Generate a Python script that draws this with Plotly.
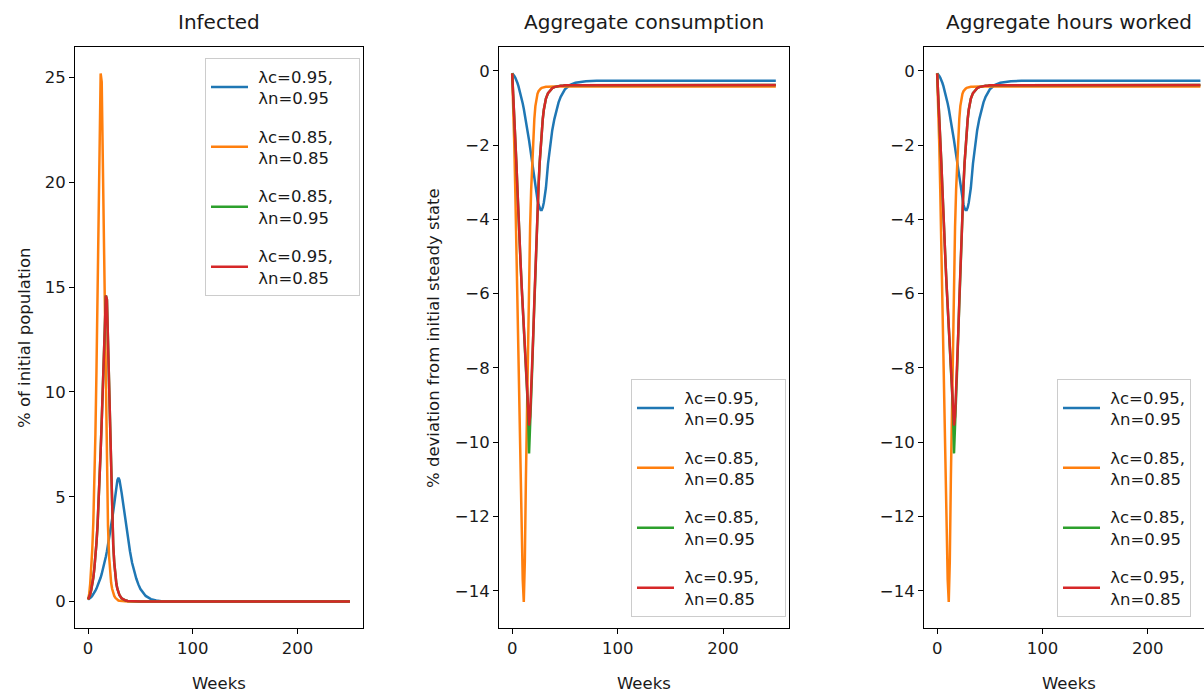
import plotly.graph_objects as go

# ---------------- data ----------------
weeks = list(range(0, 31)) + list(range(32, 51, 2)) + [55, 60, 65, 70, 80, 90, 100, 150, 200, 250]

series_labels = [("λc=0.95,", "λn=0.95"), ("λc=0.85,", "λn=0.85"),
                 ("λc=0.85,", "λn=0.95"), ("λc=0.95,", "λn=0.85")]
series_colors = ["#1f77b4", "#ff7f0e", "#2ca02c", "#d62728"]

# Infected (% of initial population)
inf_095_095 = [0.10, 0.13, 0.17, 0.22, 0.28, 0.35, 0.43, 0.52, 0.62, 0.74, 0.87, 1.0, 1.15, 1.32, 1.5, 1.7,
               1.92, 2.15, 2.4, 2.68, 2.98, 3.3, 3.62, 3.95, 4.3, 4.7, 5.1, 5.5, 5.8, 5.9, 5.8,
               5.2, 4.45, 3.7, 3.0, 2.4, 1.85, 1.45, 1.1, 0.82, 0.6,
               0.27, 0.12, 0.05, 0.02, 0.01, 0, 0, 0, 0, 0]
inf_085_085 = [0.10, 0.35, 0.85, 1.5, 2.5, 3.8, 5.5, 8.0, 11.0, 14.5, 18.5, 22.5, 25.2, 24.8, 21.5, 17.8,
               13.5, 9.5, 6.3, 3.6, 2.2, 1.4, 0.9, 0.6, 0.4, 0.27, 0.18, 0.12, 0.08, 0.05, 0.035,
               0.02, 0.01, 0.006, 0.004, 0.002, 0.001, 0, 0, 0, 0,
               0, 0, 0, 0, 0, 0, 0, 0, 0, 0]
inf_085_095 = [0.10, 0.2, 0.35, 0.55, 0.8, 1.15, 1.6, 2.1, 2.8, 3.6, 4.6, 5.8, 7.2, 8.6, 10.2, 12.0,
               13.6, 14.6, 14.4, 12.3, 9.8, 7.5, 5.5, 3.9, 2.7, 1.85, 1.25, 0.85, 0.6, 0.42, 0.3,
               0.16, 0.09, 0.05, 0.03, 0.02, 0.01, 0.006, 0.004, 0.002, 0.001,
               0, 0, 0, 0, 0, 0, 0, 0, 0, 0]
inf_095_085 = [0.10, 0.2, 0.35, 0.55, 0.8, 1.15, 1.6, 2.1, 2.8, 3.6, 4.6, 5.8, 7.2, 8.6, 10.2, 12.0,
               13.6, 14.6, 14.4, 12.3, 9.8, 7.5, 5.5, 3.9, 2.7, 1.85, 1.25, 0.85, 0.6, 0.42, 0.3,
               0.16, 0.09, 0.05, 0.03, 0.02, 0.01, 0.006, 0.004, 0.002, 0.001,
               0, 0, 0, 0, 0, 0, 0, 0, 0, 0]

# Aggregate consumption (% deviation from initial steady state)
cons_095_095 = [-0.07, -0.1, -0.14, -0.19, -0.25, -0.33, -0.42, -0.52, -0.63, -0.75, -0.88, -1.02, -1.17, -1.33,
                -1.5, -1.68, -1.87, -2.07, -2.28, -2.49, -2.7, -2.9, -3.1, -3.3, -3.47, -3.6, -3.7, -3.75,
                -3.75, -3.68, -3.55,
                -3.15, -2.5, -2.0, -1.6, -1.3, -1.05, -0.85, -0.7, -0.58, -0.5,
                -0.38, -0.32, -0.3, -0.28, -0.27, -0.27, -0.27, -0.27, -0.27, -0.27]
cons_085_085 = [-0.07, -0.9, -2.0, -3.3, -4.8, -6.4, -8.1, -9.7, -11.2, -12.6, -13.7, -14.3, -13.2, -11.0,
                -9.0, -7.1, -5.5, -4.2, -3.2, -2.4, -1.75, -1.3, -0.95, -0.75, -0.62, -0.55, -0.5, -0.48,
                -0.46, -0.45, -0.44,
                -0.43, -0.43, -0.42, -0.42, -0.42, -0.42, -0.42, -0.42, -0.42, -0.42,
                -0.42, -0.42, -0.42, -0.42, -0.42, -0.42, -0.42, -0.42, -0.42, -0.42]
cons_085_095 = [-0.07, -0.6, -1.2, -1.9, -2.5, -3.2, -4.0, -4.6, -5.2, -5.8, -6.3, -6.9, -7.5, -8.1,
                -8.6, -9.1, -10.3, -9.3, -8.7, -8.0, -7.1, -6.2, -5.3, -4.5, -3.8, -3.1, -2.5, -2.0,
                -1.6, -1.3, -1.05,
                -0.75, -0.6, -0.52, -0.47, -0.44, -0.42, -0.41, -0.40, -0.40, -0.39,
                -0.39, -0.39, -0.38, -0.38, -0.38, -0.38, -0.38, -0.38, -0.38, -0.38]
cons_095_085 = [-0.07, -0.6, -1.2, -1.9, -2.5, -3.2, -4.0, -4.6, -5.2, -5.8, -6.3, -6.9, -7.5, -8.1,
                -8.6, -9.1, -9.55, -9.3, -8.7, -8.0, -7.1, -6.2, -5.3, -4.5, -3.8, -3.1, -2.5, -2.0,
                -1.6, -1.3, -1.05,
                -0.75, -0.6, -0.52, -0.47, -0.44, -0.42, -0.41, -0.40, -0.40, -0.39,
                -0.39, -0.39, -0.38, -0.38, -0.38, -0.38, -0.38, -0.38, -0.38, -0.38]

# Aggregate hours worked (% deviation from initial steady state)
hours_095_095 = [-0.07, -0.1, -0.14, -0.19, -0.25, -0.33, -0.42, -0.52, -0.63, -0.75, -0.88, -1.02, -1.17, -1.33,
                 -1.5, -1.68, -1.87, -2.07, -2.28, -2.49, -2.7, -2.9, -3.1, -3.3, -3.47, -3.6, -3.7, -3.75,
                 -3.75, -3.68, -3.55,
                 -3.15, -2.5, -2.0, -1.6, -1.3, -1.05, -0.85, -0.7, -0.58, -0.5,
                 -0.38, -0.32, -0.3, -0.28, -0.27, -0.27, -0.27, -0.27, -0.27, -0.27]
hours_085_085 = [-0.07, -0.9, -2.0, -3.3, -4.8, -6.4, -8.1, -9.7, -11.2, -12.6, -13.7, -14.3, -13.2, -11.0,
                 -9.0, -7.1, -5.5, -4.2, -3.2, -2.4, -1.75, -1.3, -0.95, -0.75, -0.62, -0.55, -0.5, -0.48,
                 -0.46, -0.45, -0.44,
                 -0.43, -0.43, -0.42, -0.42, -0.42, -0.42, -0.42, -0.42, -0.42, -0.42,
                 -0.42, -0.42, -0.42, -0.42, -0.42, -0.42, -0.42, -0.42, -0.42, -0.42]
hours_085_095 = [-0.07, -0.6, -1.2, -1.9, -2.5, -3.2, -4.0, -4.6, -5.2, -5.8, -6.3, -6.9, -7.5, -8.1,
                 -8.6, -9.1, -10.3, -9.3, -8.7, -8.0, -7.1, -6.2, -5.3, -4.5, -3.8, -3.1, -2.5, -2.0,
                 -1.6, -1.3, -1.05,
                 -0.75, -0.6, -0.52, -0.47, -0.44, -0.42, -0.41, -0.40, -0.40, -0.39,
                 -0.39, -0.39, -0.38, -0.38, -0.38, -0.38, -0.38, -0.38, -0.38, -0.38]
hours_095_085 = [-0.07, -0.6, -1.2, -1.9, -2.5, -3.2, -4.0, -4.6, -5.2, -5.8, -6.3, -6.9, -7.5, -8.1,
                 -8.6, -9.1, -9.55, -9.3, -8.7, -8.0, -7.1, -6.2, -5.3, -4.5, -3.8, -3.1, -2.5, -2.0,
                 -1.6, -1.3, -1.05,
                 -0.75, -0.6, -0.52, -0.47, -0.44, -0.42, -0.41, -0.40, -0.40, -0.39,
                 -0.39, -0.39, -0.38, -0.38, -0.38, -0.38, -0.38, -0.38, -0.38, -0.38]

panel_titles = ["Infected", "Aggregate consumption", "Aggregate hours worked"]
y_titles = ["% of initial population", "% deviation from initial steady state"]
x_title = "Weeks"
x_ticks = [0, 100, 200]
y_ticks_inf = [0, 5, 10, 15, 20, 25]
y_ticks_dev = [0, -2, -4, -6, -8, -10, -12, -14]

panels = [
    [inf_095_095, inf_085_085, inf_085_095, inf_095_085],
    [cons_095_095, cons_085_085, cons_085_095, cons_095_085],
    [hours_095_095, hours_085_085, hours_085_095, hours_095_085],
]

# ---------------- figure ----------------
W, H = 1204, 694
FONT = "DejaVu Sans"
TXT = "#1a1a1a"


def legend_label(lbl, pad_right):
    pad = "&nbsp;" * pad_right
    return "&nbsp;" + lbl[0] + pad + "<br>&nbsp;" + lbl[1]


fig = go.Figure()
legend_ids = ["legend", "legend2", "legend3"]
axis_ids = ["", "2", "3"]
right_pad = [4, 4, 0]
for p, data in enumerate(panels):
    for s, vals in enumerate(data):
        fig.add_trace(go.Scatter(
            x=weeks, y=vals, mode="lines", name=legend_label(series_labels[s], right_pad[p]),
            line=dict(color=series_colors[s], width=2.5),
            xaxis="x" + axis_ids[p], yaxis="y" + axis_ids[p],
            legend=legend_ids[p], legendgroup="p%d_s%d" % (p, s),
        ))

def px_x(v):
    return v / W

def px_y(v):
    return 1 - v / H

top, bottom = 47, 628
ydom = [px_y(bottom), px_y(top)]
xdoms = [[px_x(75), px_x(363)], [px_x(499), px_x(789)], [px_x(924), 1.0]]
xranges = [[-12.5, 262.5], [-12.5, 262.5], [-12.5, 253.4]]
yranges = [[-1.26, 26.46], [-15.0, 0.64], [-15.0, 0.64]]
yticks = [y_ticks_inf, y_ticks_dev, y_ticks_dev]

axis_common = dict(
    showgrid=False, zeroline=False, showline=True, linecolor="black", linewidth=1,
    ticks="outside", ticklen=5, tickwidth=1, tickcolor="black",
    tickfont=dict(family=FONT, size=16.5, color=TXT),
)

layout = dict(
    width=W, height=H,
    margin=dict(l=0, r=0, t=0, b=0, autoexpand=False),
    paper_bgcolor="white", plot_bgcolor="white",
    font=dict(family=FONT, size=16.5, color=TXT),
    showlegend=True,
)
for p in range(3):
    layout["xaxis" + axis_ids[p]] = dict(
        axis_common, domain=xdoms[p], range=xranges[p], tickvals=x_ticks,
        anchor="y" + axis_ids[p], mirror=True,
    )
    layout["yaxis" + axis_ids[p]] = dict(
        axis_common, domain=ydom, range=yranges[p], tickvals=yticks[p],
        anchor="x" + axis_ids[p], mirror=(p < 2),
    )

legend_pos = [(205, 58), (631, 379), (1057, 379)]
for p in range(3):
    lx, ly = legend_pos[p]
    layout[legend_ids[p]] = dict(
        x=px_x(lx), y=px_y(ly), xanchor="left", yanchor="top",
        xref="paper", yref="paper",
        bgcolor="rgba(255,255,255,0.85)", bordercolor="#cccccc", borderwidth=1,
        font=dict(family=FONT, size=16.5, color=TXT),
        tracegroupgap=14, itemwidth=37, itemclick=False,
    )

fig.update_layout(**layout)

annotations = []
title_x = [219, 644, 1069]
for p in range(3):
    annotations.append(dict(
        text=panel_titles[p], x=px_x(title_x[p]), y=px_y(22), xref="paper", yref="paper",
        xanchor="center", yanchor="middle", showarrow=False,
        font=dict(family=FONT, size=20, color=TXT),
    ))
    annotations.append(dict(
        text=x_title, x=px_x(title_x[p]), y=px_y(683), xref="paper", yref="paper",
        xanchor="center", yanchor="middle", showarrow=False,
        font=dict(family=FONT, size=16.5, color=TXT),
    ))
for i, xx in enumerate([24, 433]):
    annotations.append(dict(
        text=y_titles[i], x=px_x(xx), y=px_y(338), xref="paper", yref="paper",
        xanchor="center", yanchor="middle", textangle=-90, showarrow=False,
        font=dict(family=FONT, size=16.5, color=TXT),
    ))
fig.update_layout(annotations=annotations)

fig.write_html("out.html")
